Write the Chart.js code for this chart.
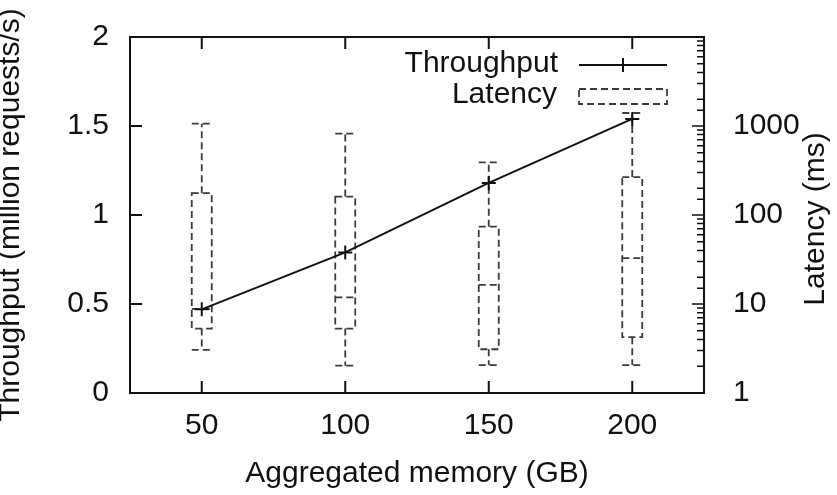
<!DOCTYPE html>
<html>
<head>
<meta charset="utf-8">
<script src="https://cdn.jsdelivr.net/npm/chart.js@4.4.0/dist/chart.umd.min.js"></script>
<style>
body { margin: 0; background: #fff; }
</style>
</head>
<body>
<canvas id="chart" width="837" height="495"></canvas>
<script>
// data
const memory = [50, 100, 150, 200];
const throughput = [0.47, 0.79, 1.18, 1.54];
// latency box plot (ms)
const latMin = [3.05, 2.03, 2.06, 2.06];
const latQ1 = [5.3, 5.3, 3.1, 4.24];
const latMed = [8.8, 11.9, 16.4, 32.7];
const latQ3 = [176, 161, 74, 267];
const latMax = [1062, 819, 390, 1400];

const xTicks = [50, 100, 150, 200];
const y2Labels = [1, 10, 100, 1000];

const FONT = '"Liberation Sans", Arial, Helvetica, sans-serif';
Chart.defaults.font.family = FONT;
Chart.defaults.font.size = 30;
Chart.defaults.color = '#111';

function noPad(s) {
  s.paddingTop = 0; s.paddingBottom = 0; s.paddingLeft = 0; s.paddingRight = 0;
}

const gnuplotBits = {
  id: 'gnuplotBits',
  beforeDatasetsDraw(chart) {
    const ctx = chart.ctx, x = chart.scales.x, y2 = chart.scales.y2;
    const hw = 10;
    ctx.save();
    ctx.strokeStyle = '#3a3a3a';
    ctx.lineWidth = 1.8;
    ctx.setLineDash([7, 4]);
    for (let i = 0; i < memory.length; i++) {
      const px = x.getPixelForValue(memory[i]);
      const lo = y2.getPixelForValue(latMin[i]);
      const q1 = y2.getPixelForValue(latQ1[i]);
      const md = y2.getPixelForValue(latMed[i]);
      const q3 = y2.getPixelForValue(latQ3[i]);
      const hi = y2.getPixelForValue(latMax[i]);
      ctx.strokeRect(px - hw, q3, 2 * hw, q1 - q3);
      ctx.beginPath();
      ctx.moveTo(px - hw, md); ctx.lineTo(px + hw, md);
      ctx.moveTo(px, q3); ctx.lineTo(px, hi);
      ctx.moveTo(px - hw, hi); ctx.lineTo(px + hw, hi);
      ctx.moveTo(px, q1); ctx.lineTo(px, lo);
      ctx.moveTo(px - hw, lo); ctx.lineTo(px + hw, lo);
      ctx.stroke();
    }
    ctx.restore();
  },
  afterDraw(chart) {
    const ctx = chart.ctx, a = chart.chartArea;
    const x = chart.scales.x, y = chart.scales.y, y2 = chart.scales.y2;
    ctx.save();
    ctx.strokeStyle = '#111';
    ctx.lineWidth = 2;
    ctx.strokeRect(a.left, a.top, a.right - a.left, a.bottom - a.top);
    ctx.beginPath();
    xTicks.forEach(v => {
      const px = x.getPixelForValue(v);
      ctx.moveTo(px, a.bottom); ctx.lineTo(px, a.bottom - 12);
      ctx.moveTo(px, a.top); ctx.lineTo(px, a.top + 12);
    });
    y.ticks.forEach(t => {
      const py = y.getPixelForValue(t.value);
      ctx.moveTo(a.left, py); ctx.lineTo(a.left + 12, py);
    });
    ctx.stroke();
    ctx.lineWidth = 1.5;
    ctx.beginPath();
    y2.ticks.forEach(t => {
      const py = y2.getPixelForValue(t.value);
      const lg = Math.log10(t.value);
      const len = Math.abs(lg - Math.round(lg)) < 1e-6 ? 12 : 7;
      ctx.moveTo(a.right, py); ctx.lineTo(a.right - len, py);
    });
    ctx.stroke();

    // legend
    ctx.fillStyle = '#111';
    ctx.font = '30px ' + FONT;
    ctx.textAlign = 'right';
    ctx.textBaseline = 'middle';
    ctx.fillText('Throughput', 558, 64);
    ctx.fillText('Latency', 557, 95);
    ctx.lineWidth = 2;
    ctx.beginPath();
    ctx.moveTo(579, 65); ctx.lineTo(667, 65);
    ctx.moveTo(623, 58); ctx.lineTo(623, 72);
    ctx.stroke();
    ctx.strokeStyle = '#3a3a3a';
    ctx.lineWidth = 1.8;
    ctx.setLineDash([7, 4]);
    ctx.strokeRect(579, 89, 88, 15);
    ctx.setLineDash([]);

    // right axis title, reading bottom to top
    ctx.translate(816, 219);
    ctx.rotate(-Math.PI / 2);
    ctx.textAlign = 'center';
    ctx.fillText('Latency (ms)', 0, 0);
    ctx.restore();
  }
};

new Chart(document.getElementById('chart'), {
  type: 'line',
  data: {
    datasets: [{
      label: 'Throughput',
      data: memory.map((m, i) => ({ x: m, y: throughput[i] })),
      yAxisID: 'y',
      borderColor: '#111',
      borderWidth: 2,
      pointStyle: 'cross',
      pointRadius: 7,
      pointBorderWidth: 2,
      pointBorderColor: '#111',
      tension: 0
    }]
  },
  options: {
    responsive: false,
    animation: false,
    devicePixelRatio: 1,
    layout: { padding: { top: 37 } },
    plugins: { legend: { display: false }, tooltip: { enabled: false } },
    scales: {
      x: {
        type: 'linear', min: 25, max: 225,
        afterBuildTicks: s => { s.ticks = xTicks.map(v => ({ value: v })); },
        afterFit: s => { s.height = 102; noPad(s); },
        grid: { display: false, drawTicks: false },
        border: { display: false },
        ticks: { padding: 15, autoSkip: false },
        title: { display: true, text: 'Aggregated memory (GB)', padding: { bottom: 3 } }
      },
      y: {
        position: 'left', min: 0, max: 2,
        afterFit: s => { s.width = 130; noPad(s); },
        grid: { display: false, drawTicks: false },
        border: { display: false },
        ticks: { stepSize: 0.5, padding: 21, callback: v => String(v) },
        title: { display: true, text: 'Throughput (million requests/s)', padding: { top: -7 } }
      },
      y2: {
        type: 'logarithmic', position: 'right', min: 1, max: 10000,
        afterFit: s => { s.width = 133; noPad(s); },
        grid: { display: false, drawTicks: false },
        border: { display: false },
        ticks: {
          padding: 29, autoSkip: false,
          callback: v => y2Labels.includes(Math.round(v)) && Math.abs(Math.log10(v) - Math.round(Math.log10(v))) < 1e-6 ? String(Math.round(v)) : ''
        }
      }
    }
  },
  plugins: [gnuplotBits]
});
</script>
</body>
</html>
